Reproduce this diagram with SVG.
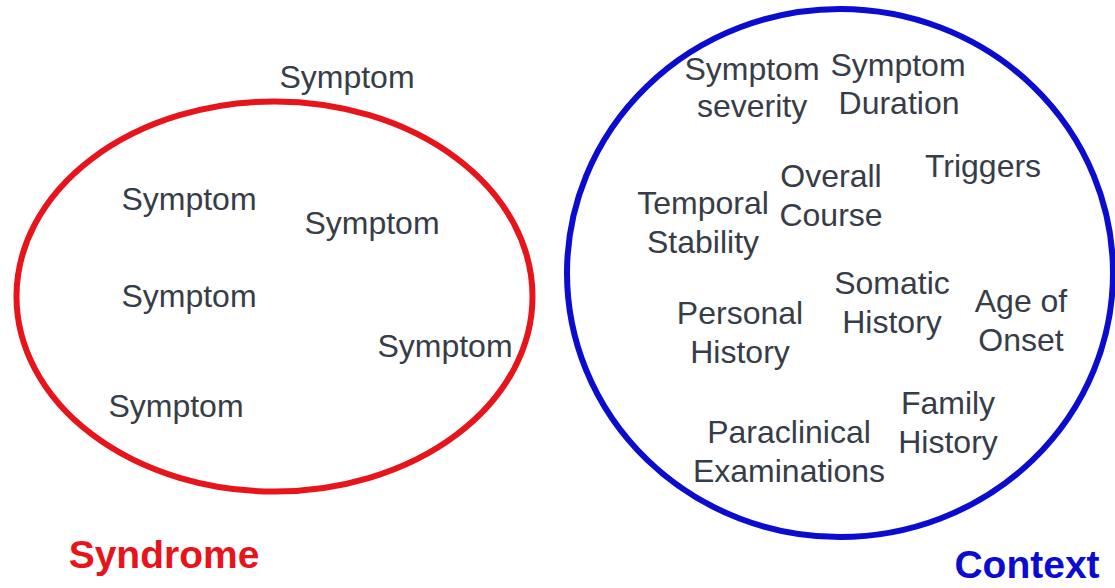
<svg xmlns="http://www.w3.org/2000/svg" width="1115" height="588" viewBox="0 0 1115 588">
<style>
.t{font-family:"Liberation Sans",Arial,sans-serif;font-size:32px;fill:#373d48;text-anchor:middle}
.title{font-family:"Liberation Sans",Arial,sans-serif;font-weight:bold;font-size:39px;text-anchor:middle}
.ring{fill:none;stroke-width:6}
</style>
<rect width="1115" height="588" fill="#ffffff"/>
<g id="syndrome">
<ellipse class="ring" cx="274.5" cy="296.5" rx="258" ry="195" stroke="#e8141b"/>
<text class="title" x="164" y="568" fill="#e8141b">Syndrome</text>
</g>
<g id="context">
<ellipse class="ring" cx="840" cy="273" rx="273" ry="264" stroke="#0c0bd0"/>
<text class="title" x="1027" y="578" fill="#0c0bd0">Context</text>
</g>
<g id="connectors"></g>
<g id="symptom-top"><text class="t" x="347" y="88">Symptom</text></g>
<g id="symptom-1"><text class="t" x="189" y="210">Symptom</text></g>
<g id="symptom-2"><text class="t" x="372" y="234">Symptom</text></g>
<g id="symptom-3"><text class="t" x="189" y="307">Symptom</text></g>
<g id="symptom-4"><text class="t" x="445" y="357">Symptom</text></g>
<g id="symptom-5"><text class="t" x="176" y="417">Symptom</text></g>
<g id="symptom-severity"><text class="t" x="752" y="80">Symptom</text><text class="t" x="752" y="117">severity</text></g>
<g id="symptom-duration"><text class="t" x="898" y="76">Symptom</text><text class="t" x="899" y="114">Duration</text></g>
<g id="triggers"><text class="t" x="983" y="177">Triggers</text></g>
<g id="overall-course"><text class="t" x="831" y="187">Overall</text><text class="t" x="831" y="226">Course</text></g>
<g id="temporal-stability"><text class="t" x="703" y="214">Temporal</text><text class="t" x="703" y="253">Stability</text></g>
<g id="somatic-history"><text class="t" x="892" y="294">Somatic</text><text class="t" x="892" y="333">History</text></g>
<g id="age-of-onset"><text class="t" x="1021" y="312">Age of</text><text class="t" x="1021" y="351">Onset</text></g>
<g id="personal-history"><text class="t" x="740" y="324">Personal</text><text class="t" x="740" y="363">History</text></g>
<g id="family-history"><text class="t" x="948" y="414">Family</text><text class="t" x="948" y="453">History</text></g>
<g id="paraclinical-examinations"><text class="t" x="789" y="443">Paraclinical</text><text class="t" x="789" y="482">Examinations</text></g>
</svg>
